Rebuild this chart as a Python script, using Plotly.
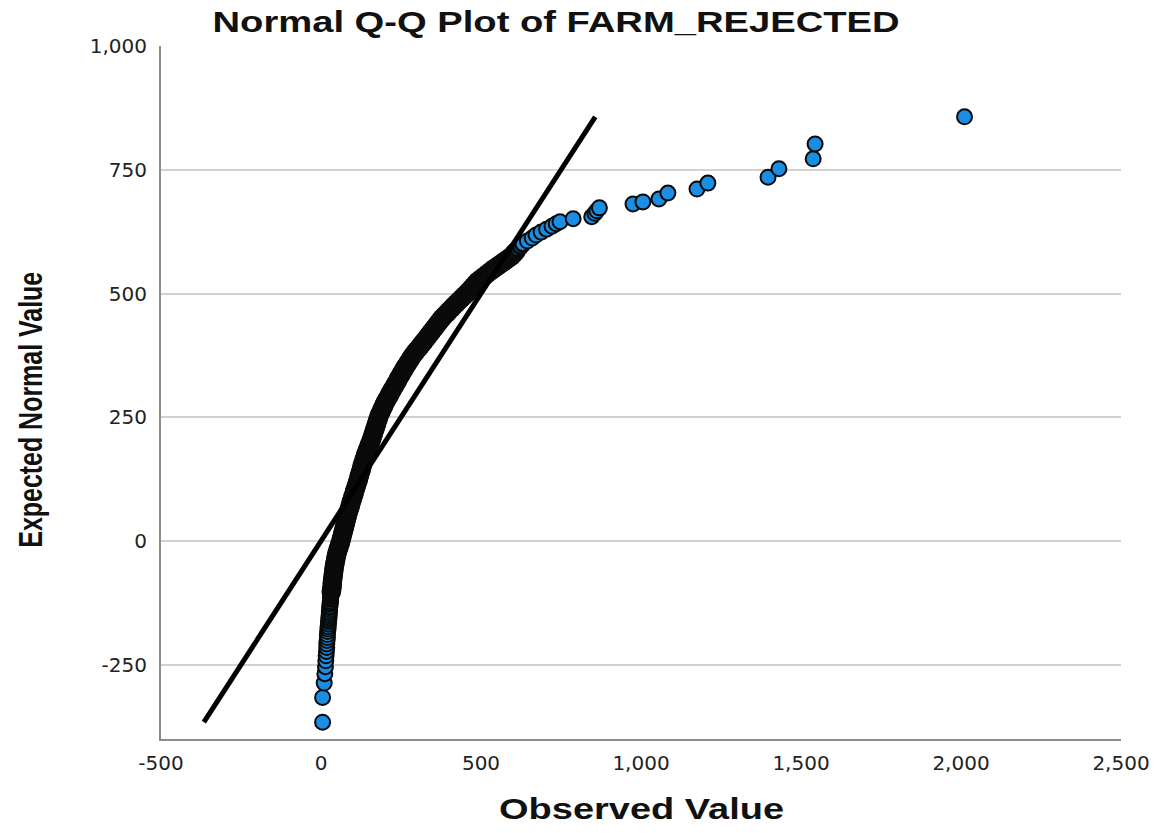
import plotly.graph_objects as go

expected = [
    -366, -316, -287, -268, -254, -242, -232, -223, -215, -208, -201, -195, -189, -183,
    -178, -173, -168, -163, -159, -155, -151, -147, -143, -139, -135, -132, -128, -125,
    -122, -118, -115, -112, -109, -106, -103,
    -100, -95, -90, -85, -80, -75, -70, -65, -60, -55, -50, -45, -40, -35, -30, -25,
    -20, -15, -10, -5, 0, 5, 10, 15, 20, 25, 30, 35, 40, 45, 50, 55, 60, 65, 70, 75,
    80, 85, 90, 95, 100, 105, 110, 115, 120, 125, 130, 135, 140, 145, 150, 155, 160,
    165, 170, 175, 180, 185, 190, 195, 200, 205, 210, 215, 220, 225, 230, 235, 240,
    245, 250, 255, 260, 265, 270, 275, 280, 285, 290, 295, 300, 305, 310, 315, 320,
    325, 330, 335, 340, 345, 350, 355, 360, 365, 370, 375, 380, 385, 390, 395, 400,
    405, 410, 415, 420, 425, 430, 435, 440, 445, 450, 455, 460, 465, 470, 475, 480,
    485, 490, 495, 500, 505, 510, 515, 520, 525, 530, 535, 540, 545, 550, 555, 560,
    565, 570, 575, 580, 585, 590, 595, 600,
    606, 612, 618, 624, 630, 636, 641, 645, 651, 655, 662, 667, 673, 681, 685, 691,
    703, 711, 723, 735, 752, 772, 802, 857,
]
observed = [
    5, 5, 10, 12, 14, 15, 16, 17, 18, 18, 19, 20, 20, 21,
    22, 22, 23, 24, 24, 25, 25, 26, 26, 27, 27, 28, 28, 29,
    29, 30, 30, 31, 31, 32, 32,
    33, 34, 35, 35, 36, 37, 38, 39, 40, 41, 42, 44, 45, 47, 48, 50,
    52, 55, 57, 60, 62, 64, 66, 68, 70, 72, 74, 76, 78, 80, 82, 84, 86, 89, 91, 93,
    95, 98, 100, 103, 105, 107, 110, 112, 115, 117, 119, 121, 124, 126, 128, 130, 133,
    135, 138, 140, 143, 146, 149, 152, 155, 158, 160, 163, 165, 168, 170, 173, 175,
    178, 180, 183, 187, 190, 194, 197, 201, 205, 210, 214, 218, 222, 227, 231, 236,
    240, 244, 249, 253, 258, 262, 267, 272, 277, 282, 287, 293, 299, 306, 312, 318,
    324, 330, 336, 342, 348, 354, 360, 366, 372, 378, 385, 393, 400, 408, 415, 423,
    431, 439, 447, 455, 462, 469, 476, 483, 490, 500, 510, 520, 530, 540, 551, 562,
    573, 584, 595, 602, 609, 616, 623, 630,
    645, 660, 672, 688, 705, 722, 735, 747, 788, 846, 856, 862, 870, 975, 1006, 1056,
    1084, 1175, 1209, 1397, 1431, 1538, 1544, 2011,
]

x_ticks = [-500, 0, 500, 1000, 1500, 2000, 2500]
x_labels = ["-500", "0", "500", "1,000", "1,500", "2,000", "2,500"]
y_ticks = [-250, 0, 250, 500, 750, 1000]
y_labels = ["-250", "0", "250", "500", "750", "1,000"]

title_text = "Normal Q-Q Plot of FARM_REJECTED"
x_title = "Observed Value"
y_title = "Expected Normal Value"

line_vals = [min(expected), max(expected)]

# In the reference the ~1000 overlapping cases merge into a solid black band in the
# crowded middle of the distribution; emulate that with heavier outlines there.
outline_w = []
for v in expected:
    if -105 <= v <= 585:
        outline_w.append(4.5)
    elif 585 < v <= 600:
        outline_w.append(3)
    else:
        outline_w.append(2)

fig = go.Figure()
fig.add_trace(go.Scatter(
    x=observed, y=expected, mode="markers",
    marker=dict(size=15, color="#1b8ee3", line=dict(color="#0a0a0a", width=outline_w)),
    hoverinfo="x+y", showlegend=False,
))
fig.add_trace(go.Scatter(
    x=line_vals, y=line_vals, mode="lines",
    line=dict(color="#000000", width=5), showlegend=False, hoverinfo="skip",
))

tick_font = dict(family="DejaVu Sans, Verdana, sans-serif", size=20, color="#222222")

fig.update_layout(
    width=1161, height=833,
    margin=dict(l=161, r=40, t=46, b=94, pad=0),
    paper_bgcolor="white", plot_bgcolor="white",
    showlegend=False,
    xaxis=dict(
        range=[-500, 2500], tickvals=x_ticks, ticktext=x_labels,
        showgrid=False, zeroline=False, showline=True, linecolor="#8c8c8c", linewidth=2,
        ticks="", tickfont=tick_font, ticklabelstandoff=5,
    ),
    yaxis=dict(
        range=[-400, 1000], tickvals=y_ticks, ticktext=y_labels,
        showgrid=True, gridcolor="#d2d2d2", gridwidth=2,
        zeroline=False, showline=True, linecolor="#8c8c8c", linewidth=2,
        ticks="", tickfont=tick_font, ticklabelstandoff=8,
    ),
    annotations=[
        dict(text=title_text, xref="paper", yref="paper", x=0.411, y=1.035,
             xanchor="center", yanchor="middle", showarrow=False,
             font=dict(family="Liberation Sans, Arial, sans-serif", size=30,
                       color="#111111", weight="bold")),
        dict(text=x_title, xref="paper", yref="paper", x=0.5, y=-0.1,
             xanchor="center", yanchor="middle", showarrow=False,
             font=dict(family="Liberation Sans, Arial, sans-serif", size=30,
                       color="#111111", weight="bold")),
        dict(text=y_title, xref="paper", yref="paper", x=-0.1365, y=0.475,
             xanchor="center", yanchor="middle", showarrow=False, textangle=-90,
             font=dict(family="Liberation Sans, Arial, sans-serif", size=34,
                       color="#111111", weight="bold")),
    ],
)

# stretch/condense the titles to the proportions of the reference picture
post = """
document.body.style.margin='0';
var gd = document.querySelector('.plotly-graph-div');
function fitTexts(){
  var want = {'Normal Q-Q Plot of FARM_REJECTED': 687, 'Observed Value': 285,
              'Expected Normal Value': 276};
  gd.querySelectorAll('text.annotation-text').forEach(function(t){
    var w = want[t.textContent];
    if (w) { t.setAttribute('textLength', w); t.setAttribute('lengthAdjust', 'spacingAndGlyphs'); }
  });
}
fitTexts();
gd.on('plotly_afterplot', fitTexts);
"""

fig.write_html("out.html", post_script=post, config={"displayModeBar": False})
